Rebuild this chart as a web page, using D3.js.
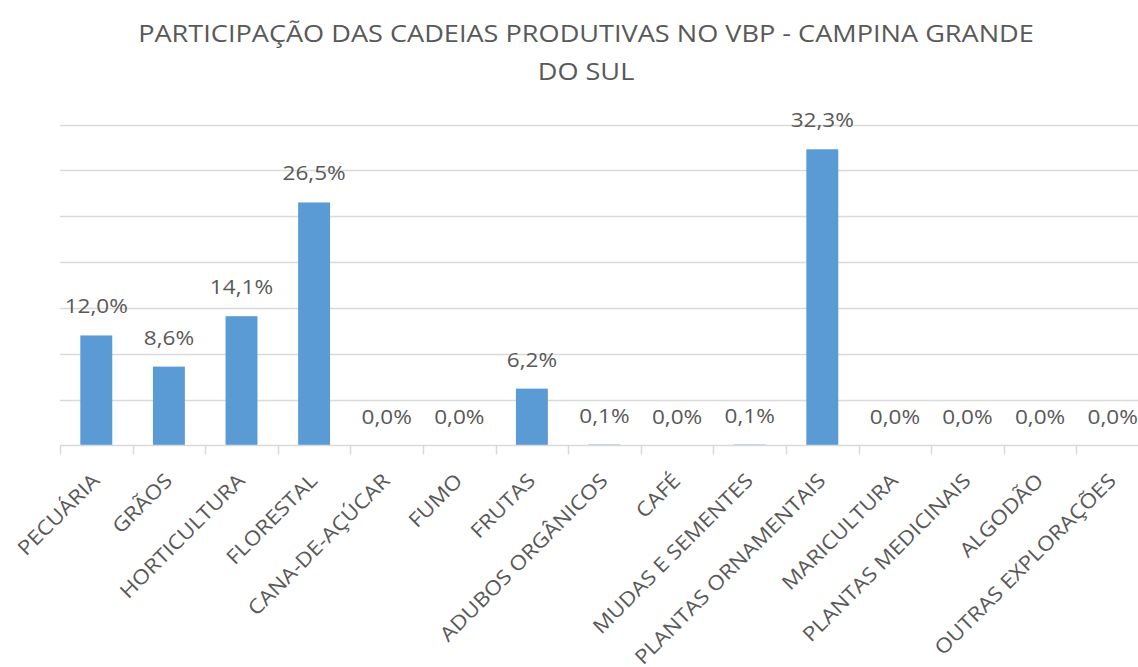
<!DOCTYPE html>
<html>
<head>
<meta charset="utf-8">
<script src="https://cdn.jsdelivr.net/npm/d3@7"></script>
<style>
  body { margin: 0; background: #fff; }
  text { font-family: "Open Sans", sans-serif; fill: #595959; }
</style>
</head>
<body>
<script>
var categories = ["PECUÁRIA", "GRÃOS", "HORTICULTURA", "FLORESTAL", "CANA-DE-AÇÚCAR", "FUMO", "FRUTAS",
  "ADUBOS ORGÂNICOS", "CAFÉ", "MUDAS E SEMENTES", "PLANTAS ORNAMENTAIS", "MARICULTURA",
  "PLANTAS MEDICINAIS", "ALGODÃO", "OUTRAS EXPLORAÇÕES"]
var values = [12.0, 8.6, 14.1, 26.5, 0.0, 0.0, 6.2, 0.1, 0.0, 0.1, 32.3, 0.0, 0.0, 0.0, 0.0]
var yTicks = [0, 5, 10, 15, 20, 25, 30, 35]
var titleLines = ["PARTICIPAÇÃO DAS CADEIAS PRODUTIVAS NO VBP - CAMPINA GRANDE", "DO SUL"]

var svgWidth = 1138
var svgHeight = 667
var stretch = 1.13   // the original font runs wider than Open Sans
var data = categories.map((c, i) => ({cat: c, val: values[i]}))

var svg = d3.select("body").append("svg")
    .attr("width", svgWidth)
    .attr("height", svgHeight)

var x = d3.scaleBand().domain(categories).range([60, 1149]).paddingInner(0.56).paddingOuter(0.28)
var xTick = d3.scaleBand().domain(categories).range([60, 1149])
var y = d3.scaleLinear().domain([0, 35]).range([445.5, 124.5])

// title
svg.append("g").selectAll("text")
    .data(titleLines)
    .enter().append("text")
    .attr("transform", (d, i) => "translate(586," + (42 + i * 38) + ") scale(" + stretch + ",1)")
    .attr("text-anchor", "middle")
    .style("font-size", "24px")
    .text(d => d)

// gridlines
svg.append("g").selectAll("line")
    .data(yTicks.slice(1))
    .enter().append("line")
    .attr("x1", 60).attr("x2", svgWidth)
    .attr("y1", d => Math.round(y(d)) + 0.5)
    .attr("y2", d => Math.round(y(d)) + 0.5)
    .attr("stroke", "#d9d9d9")
    .attr("stroke-width", 1.5)

// bars
svg.append("g").selectAll("rect")
    .data(data)
    .enter().append("rect")
    .attr("x", d => x(d.cat))
    .attr("width", x.bandwidth())
    .attr("y", d => y(d.val))
    .attr("height", d => y(0) - y(d.val))
    .attr("fill", "#5b9bd5")

// x axis
var xAxis = svg.append("g")
xAxis.append("line")
    .attr("x1", 60).attr("x2", svgWidth)
    .attr("y1", y(0)).attr("y2", y(0))
    .attr("stroke", "#d9d9d9").attr("stroke-width", 1.5)
xAxis.selectAll(".tick")
    .data(categories)
    .enter().append("line")
    .attr("x1", d => Math.round(xTick(d)) + 0.5)
    .attr("x2", d => Math.round(xTick(d)) + 0.5)
    .attr("y1", y(0)).attr("y2", y(0) + 9)
    .attr("stroke", "#d9d9d9").attr("stroke-width", 1.5)

xAxis.selectAll(".lab")
    .data(categories)
    .enter().append("text")
    .attr("text-anchor", "end")
    .attr("transform", d => "translate(" + (xTick(d) + xTick.bandwidth() / 2 + 4.5) + "," + (y(0) + 36.5) + ") rotate(-45) scale(" + stretch + ",1)")
    .style("font-size", "20px")
    .text(d => d)

// data labels
svg.append("g").selectAll("text")
    .data(data)
    .enter().append("text")
    .attr("transform", d => "translate(" + (x(d.cat) + x.bandwidth() / 2) + "," + (y(d.val) - 22) + ") scale(" + stretch + ",1)")
    .attr("text-anchor", "middle")
    .style("font-size", "20px")
    .text(d => d3.format(".1f")(d.val).replace(".", ",") + "%")
</script>
</body>
</html>
